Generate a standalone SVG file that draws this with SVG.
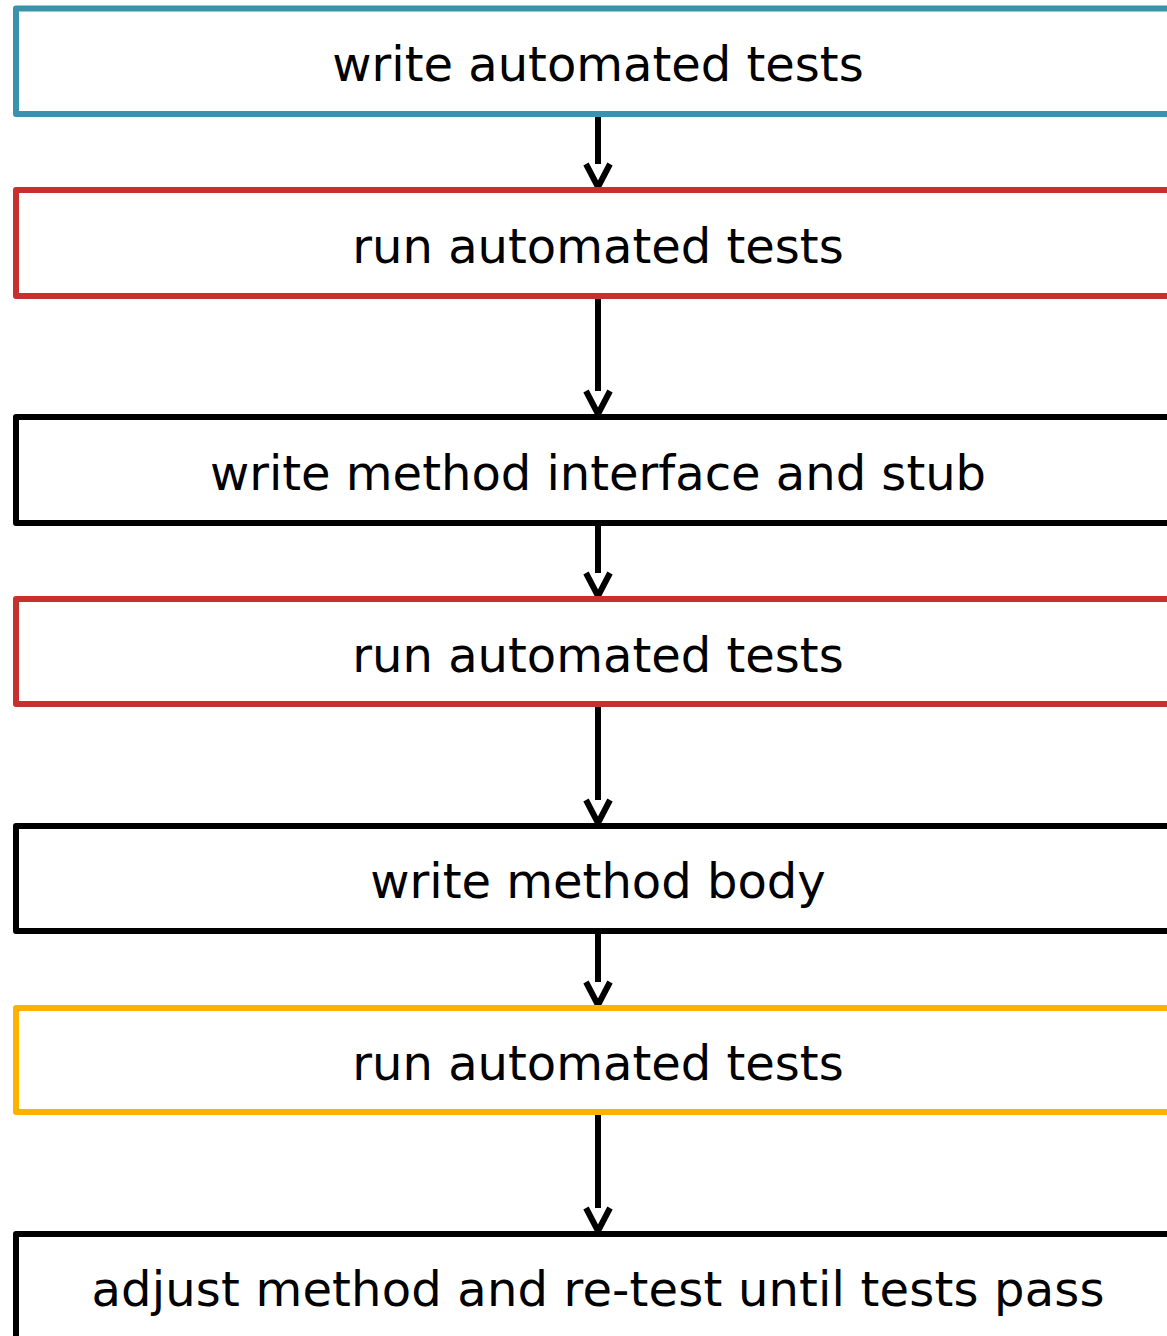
<svg xmlns="http://www.w3.org/2000/svg" width="1167" height="1336" viewBox="0 0 1167 1336">
  <defs>
    <style>
      .box { fill: #ffffff; stroke-width: 6; stroke-linejoin: round; }
      .blue { stroke: #3a93ab; }
      .red { stroke: #c8302f; }
      .amber { stroke: #ffb300; }
      .dark { stroke: #000000; }
      .label { font-family: "DejaVu Sans", Verdana, sans-serif; font-size: 48px; fill: #000000; text-anchor: middle; }
      .edge { stroke: #000000; stroke-width: 6; fill: none; marker-end: url(#openArrow); }
    </style>
    <marker id="openArrow" markerUnits="userSpaceOnUse" markerWidth="30" markerHeight="30" refX="0" refY="0" orient="auto" overflow="visible">
      <path d="M0,-12 L23,0 L0,12" fill="none" stroke="#000000" stroke-width="6" stroke-linejoin="miter"/>
    </marker>
  </defs>

  <rect width="1167" height="1336" fill="#ffffff"/>

  <!-- connectors -->
  <g id="connectors">
    <line class="edge" x1="598" y1="114" x2="598" y2="164"/>
    <line class="edge" x1="598" y1="296" x2="598" y2="391"/>
    <line class="edge" x1="598" y1="523" x2="598" y2="573"/>
    <line class="edge" x1="598" y1="704" x2="598" y2="800"/>
    <line class="edge" x1="598" y1="931" x2="598" y2="982"/>
    <line class="edge" x1="598" y1="1112" x2="598" y2="1208"/>
  </g>

  <!-- process steps -->
  <g id="step1">
    <rect class="box blue" x="16" y="8.5" width="1164" height="105.5"/>
    <text class="label" x="598" y="81">write automated tests</text>
  </g>
  <g id="step2">
    <rect class="box red" x="16" y="190" width="1164" height="106"/>
    <text class="label" x="598" y="263">run automated tests</text>
  </g>
  <g id="step3">
    <rect class="box dark" x="16" y="417" width="1164" height="106"/>
    <text class="label" x="598" y="490">write method interface and stub</text>
  </g>
  <g id="step4">
    <rect class="box red" x="16" y="599" width="1164" height="105"/>
    <text class="label" x="598" y="672">run automated tests</text>
  </g>
  <g id="step5">
    <rect class="box dark" x="16" y="826" width="1164" height="105"/>
    <text class="label" x="598" y="898">write method body</text>
  </g>
  <g id="step6">
    <rect class="box amber" x="16" y="1008" width="1164" height="104"/>
    <text class="label" x="598" y="1080">run automated tests</text>
  </g>
  <g id="step7">
    <rect class="box dark" x="16" y="1234" width="1164" height="106"/>
    <text class="label" x="598" y="1306" textLength="1013">adjust method and re-test until tests pass</text>
  </g>
</svg>
